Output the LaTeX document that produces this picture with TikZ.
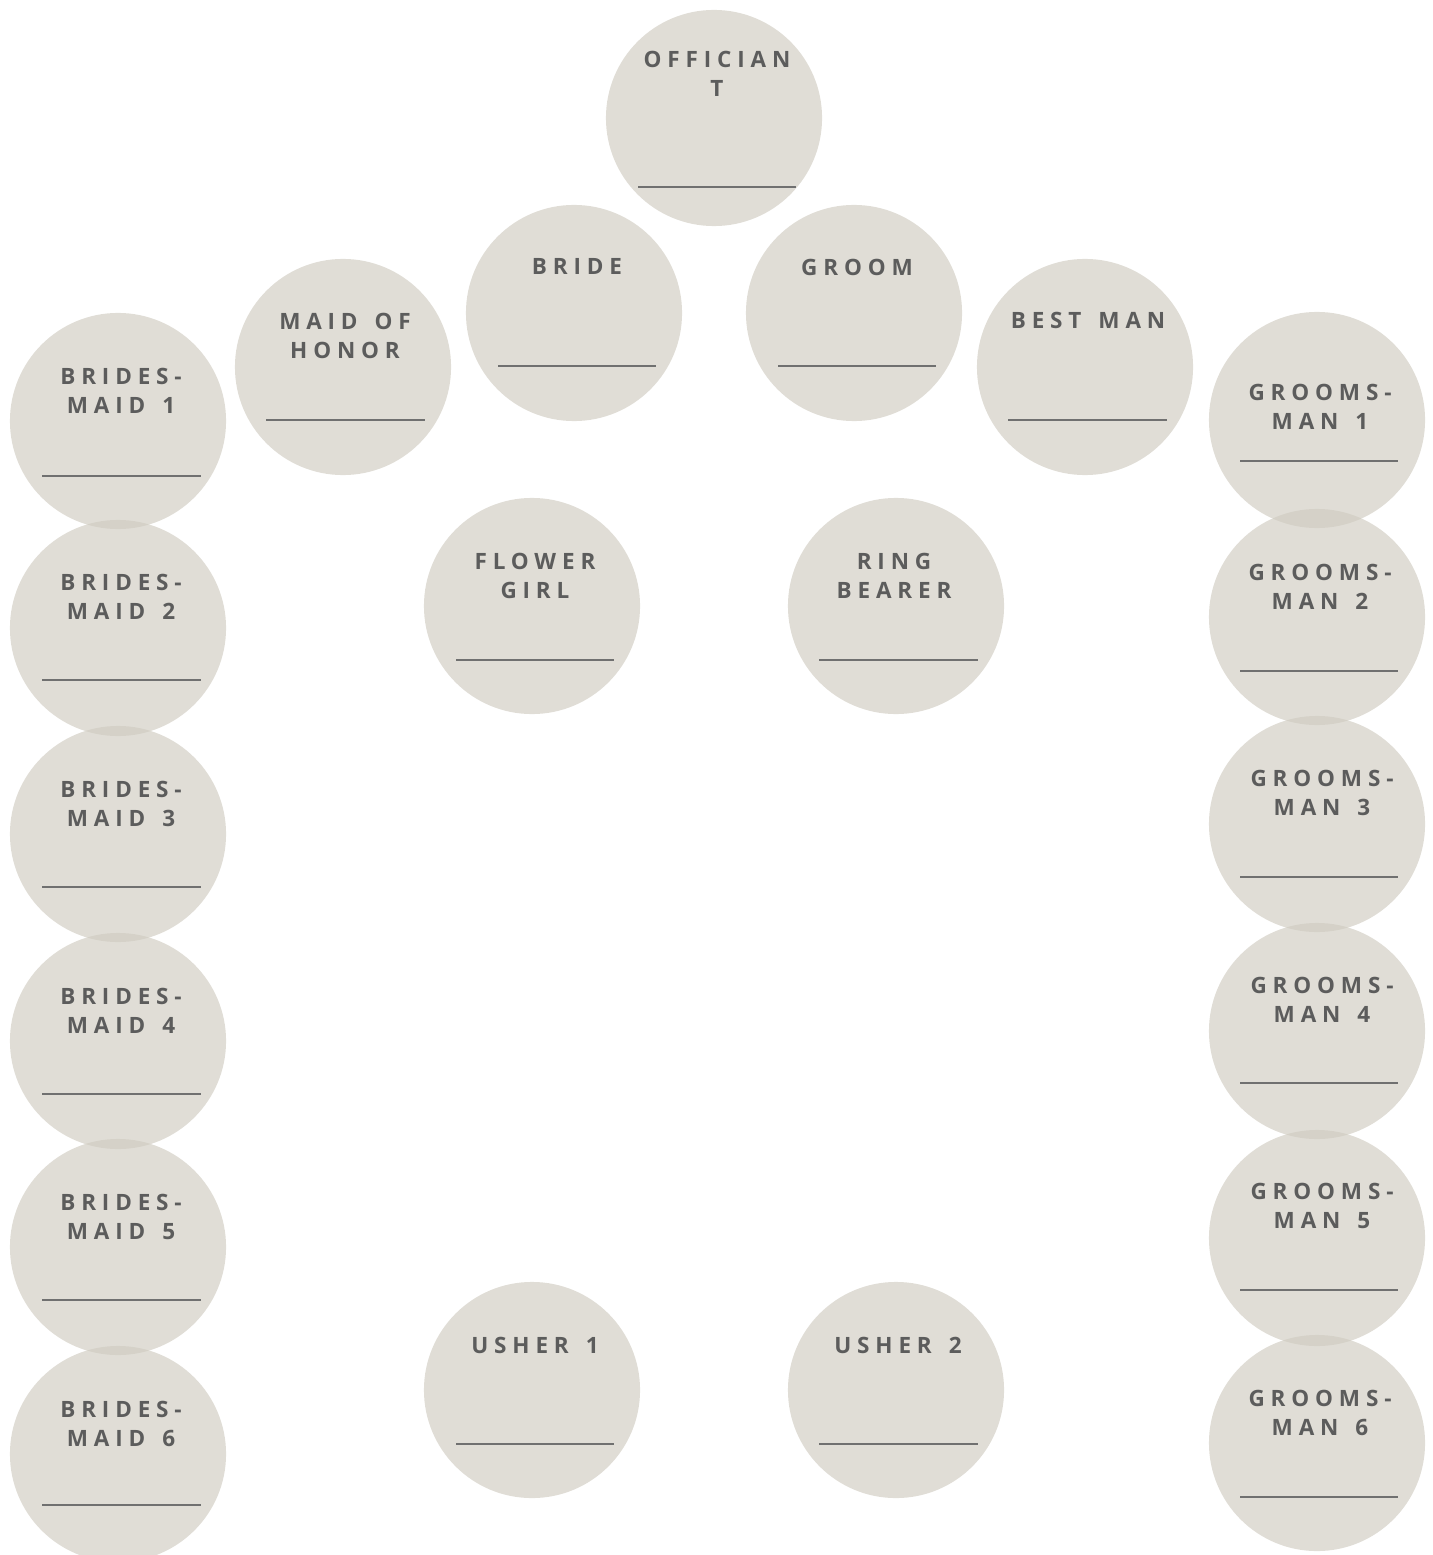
\documentclass[tikz,border=0pt]{standalone}
\usepackage{fontspec}
\usepackage{xcolor}
\newfontfamily\seatfont{Open Sans}[LetterSpace=26, WordSpace=1.45]
\definecolor{seatfill}{RGB}{207,203,192}
\definecolor{rolegray}{RGB}{92,92,92}
\definecolor{linegray}{RGB}{112,112,112}

\begin{document}
\begin{tikzpicture}[
    x=0.01cm, y=-0.01cm,
    every node/.style={font=\seatfont\bfseries\fontsize{6.4}{8.5}\selectfont},
    seat/.style={circle, fill=seatfill, fill opacity=0.65, minimum size=2.16cm, inner sep=0pt},
    role/.style={text=rolegray, align=center, anchor=north, inner sep=0pt},
    ln/.style={draw=linegray, line width=0.45pt}
]
\useasboundingbox (0,0) rectangle (1432,1555);
% circles
\node[seat] (officiant) at (714,118) {};
\node[seat] (bride)     at (574,313) {};
\node[seat] (groom)     at (854,313) {};
\node[seat] (maid)      at (343,367) {};
\node[seat] (bestman)   at (1085,367) {};
\node[seat] (flower)    at (532,606) {};
\node[seat] (ring)      at (896,606) {};
\node[seat] (usher1)    at (532,1390) {};
\node[seat] (usher2)    at (896,1390) {};
\node[seat] (bm1) at (118,421) {};
\node[seat] (bm2) at (118,628) {};
\node[seat] (bm3) at (118,834) {};
\node[seat] (bm4) at (118,1041) {};
\node[seat] (bm5) at (118,1247) {};
\node[seat] (bm6) at (118,1454) {};
\node[seat] (gm1) at (1317,420) {};
\node[seat] (gm2) at (1317,617) {};
\node[seat] (gm3) at (1317,824) {};
\node[seat] (gm4) at (1317,1031) {};
\node[seat] (gm5) at (1317,1238) {};
\node[seat] (gm6) at (1317,1443) {};
% names
\node[role] (officiant-t) at (717,50)   {OFFICIAN\\T};
\node[role] (bride-t)     at (577,258)  {BRIDE};
\node[role] (groom-t)     at (857,258)  {GROOM};
\node[role] (maid-t)      at (345,312)  {MAID OF\\HONOR};
\node[role] (bestman-t)   at (1088,312) {BEST MAN};
\node[role] (flower-t)    at (535,552)  {FLOWER\\GIRL};
\node[role] (ring-t)      at (894,552)  {RING\\BEARER};
\node[role] (usher1-t)    at (535,1336) {USHER 1};
\node[role] (usher2-t)    at (898,1336) {USHER 2};
\node[role] (bm1-t) at (121,367)  {BRIDES-\\MAID 1};
\node[role] (bm2-t) at (121,573)  {BRIDES-\\MAID 2};
\node[role] (bm3-t) at (121,780)  {BRIDES-\\MAID 3};
\node[role] (bm4-t) at (121,987)  {BRIDES-\\MAID 4};
\node[role] (bm5-t) at (121,1193) {BRIDES-\\MAID 5};
\node[role] (bm6-t) at (121,1400) {BRIDES-\\MAID 6};
\node[role] (gm1-t) at (1320,383)  {GROOMS-\\MAN 1};
\node[role] (gm2-t) at (1320,563)  {GROOMS-\\MAN 2};
\node[role] (gm3-t) at (1322,769)  {GROOMS-\\MAN 3};
\node[role] (gm4-t) at (1322,976)  {GROOMS-\\MAN 4};
\node[role] (gm5-t) at (1322,1182) {GROOMS-\\MAN 5};
\node[role] (gm6-t) at (1320,1389) {GROOMS-\\MAN 6};
% blanks
\draw[ln] (638,187) -- (796,187);
\draw[ln] (498,366) -- (656,366);
\draw[ln] (778,366) -- (936,366);
\draw[ln] (266,420) -- (425,420);
\draw[ln] (1008,420) -- (1167,420);
\draw[ln] (456,660) -- (614,660);
\draw[ln] (819,660) -- (978,660);
\draw[ln] (456,1444) -- (614,1444);
\draw[ln] (819,1444) -- (978,1444);
\draw[ln] (42,476) -- (201,476);
\draw[ln] (42,680) -- (201,680);
\draw[ln] (42,887) -- (201,887);
\draw[ln] (42,1094) -- (201,1094);
\draw[ln] (42,1300) -- (201,1300);
\draw[ln] (42,1505) -- (201,1505);
\draw[ln] (1240,461) -- (1398,461);
\draw[ln] (1240,671) -- (1398,671);
\draw[ln] (1240,877) -- (1398,877);
\draw[ln] (1240,1083) -- (1398,1083);
\draw[ln] (1240,1290) -- (1398,1290);
\draw[ln] (1240,1497) -- (1398,1497);
\end{tikzpicture}
\end{document}
